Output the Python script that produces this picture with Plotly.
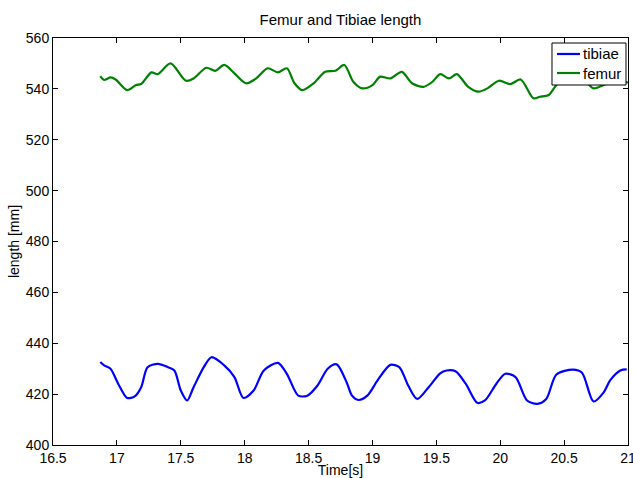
import plotly.graph_objects as go

# Femur (green) series
femur_t = [16.87, 16.90, 16.95, 16.99, 17.08, 17.15, 17.19, 17.27, 17.32, 17.42, 17.54, 17.60,
           17.70, 17.77, 17.84, 17.92, 18.01, 18.09, 18.18, 18.26, 18.33, 18.39, 18.45, 18.54,
           18.63, 18.71, 18.78, 18.85, 18.92, 19.00, 19.06, 19.14, 19.23, 19.31, 19.40, 19.47,
           19.53, 19.60, 19.66, 19.75, 19.83, 19.90, 19.99, 20.08, 20.16, 20.26, 20.31, 20.38,
           20.42, 20.50, 20.58, 20.66, 20.73, 20.81, 20.90, 21.00]
femur_v = [545.0, 543.5, 544.5, 543.7, 539.5, 541.5, 541.9, 546.5, 545.8, 550.0, 543.2, 544.1,
           548.3, 547.1, 549.4, 546.1, 542.2, 544.1, 548.1, 546.5, 548.1, 542.2, 539.5, 542.2,
           546.7, 547.1, 549.4, 542.8, 540.2, 541.5, 544.8, 544.1, 546.7, 542.2, 540.8, 542.8,
           545.8, 544.1, 545.8, 540.8, 538.9, 540.2, 543.2, 541.9, 543.7, 536.3, 536.9, 537.6,
           540.2, 545.0, 546.0, 543.5, 540.2, 541.5, 543.0, 542.5]

# Tibiae (blue) series
tibia_t = [16.87, 16.90, 16.95, 17.01, 17.08, 17.14, 17.19, 17.24, 17.32, 17.40, 17.45, 17.50,
           17.55, 17.60, 17.68, 17.74, 17.84, 17.92, 17.99, 18.07, 18.15, 18.26, 18.33, 18.42,
           18.49, 18.57, 18.65, 18.72, 18.80, 18.84, 18.89, 18.96, 19.04, 19.14, 19.21, 19.28,
           19.35, 19.44, 19.53, 19.58, 19.65, 19.73, 19.82, 19.88, 19.97, 20.04, 20.12, 20.21,
           20.29, 20.36, 20.44, 20.57, 20.64, 20.73, 20.81, 20.86, 20.94, 20.99]
tibia_v = [432.6, 431.3, 430.0, 424.1, 418.5, 419.1, 422.7, 430.6, 431.9, 430.6, 429.3, 421.4,
           417.5, 422.7, 430.6, 434.5, 431.3, 426.7, 418.5, 421.4, 429.3, 432.3, 428.0, 419.4,
           419.4, 423.4, 430.0, 431.7, 424.4, 419.4, 417.7, 419.4, 425.4, 431.5, 430.6, 423.4,
           418.1, 422.7, 428.2, 429.3, 429.0, 424.1, 416.6, 417.5, 424.1, 428.0, 426.7, 417.5,
           416.2, 418.1, 427.7, 429.6, 428.4, 417.1, 420.7, 425.4, 429.3, 429.7]

series_names = ["tibiae", "femur"]
series_colors = ["#0000ff", "#008000"]

x_ticks = [16.5, 17, 17.5, 18, 18.5, 19, 19.5, 20, 20.5, 21]
x_labels = ["16.5", "17", "17.5", "18", "18.5", "19", "19.5", "20", "20.5", "21"]
y_ticks = [400, 420, 440, 460, 480, 500, 520, 540, 560]

FONT = "Liberation Sans, Arial, Helvetica"

fig = go.Figure()
for t, v, name, color in [(tibia_t, tibia_v, series_names[0], series_colors[0]),
                          (femur_t, femur_v, series_names[1], series_colors[1])]:
    fig.add_trace(go.Scatter(x=t, y=v, mode="lines", name=name, showlegend=False,
                             line=dict(color=color, width=2.2, shape="spline", smoothing=0.8)))

axis_common = dict(showline=True, linecolor="black", linewidth=1, mirror="allticks",
                   ticks="inside", ticklen=5, tickcolor="black", showgrid=False, zeroline=False,
                   ticklabeloverflow="allow", automargin=False,
                   tickfont=dict(family=FONT, size=14, color="black"))

# MATLAB-style legend box (paper coordinates)
box_x0, box_x1, box_y0, box_y1 = 0.8678, 0.9965, 0.8845, 0.9877
row_y = [0.9607, 0.9140]
line_x0, line_x1, text_x = 0.8765, 0.9165, 0.918

shapes = [dict(type="rect", xref="paper", yref="paper", x0=box_x0, x1=box_x1, y0=box_y0, y1=box_y1,
               line=dict(color="black", width=1), fillcolor="white", layer="above")]
annotations = []
for name, color, ry in zip(series_names, series_colors, row_y):
    shapes.append(dict(type="line", xref="paper", yref="paper", x0=line_x0, x1=line_x1, y0=ry, y1=ry,
                       line=dict(color=color, width=2.2), layer="above"))
    annotations.append(dict(xref="paper", yref="paper", x=text_x, y=ry, xanchor="left", yanchor="middle",
                            text=name, showarrow=False,
                            font=dict(family=FONT, size=15, color="black")))

fig.update_layout(
    width=633, height=478,
    paper_bgcolor="white", plot_bgcolor="white",
    margin=dict(l=53, r=5, t=38, b=33),
    title=dict(text="Femur and Tibiae length", xref="paper", x=0.5, xanchor="center",
               yref="container", y=0.958, yanchor="middle",
               font=dict(family=FONT, size=15, color="black")),
    xaxis=dict(range=[16.5, 21], tickvals=x_ticks, ticktext=x_labels,
               title=dict(text="Time[s]", standoff=0,
                          font=dict(family=FONT, size=14, color="black")),
               **axis_common),
    yaxis=dict(range=[400, 560], tickvals=y_ticks,
               title=dict(text="length [mm]", standoff=2,
                          font=dict(family=FONT, size=14, color="black")),
               **axis_common),
    shapes=shapes,
    annotations=annotations,
    showlegend=False,
)

fig.write_html("out.html")
